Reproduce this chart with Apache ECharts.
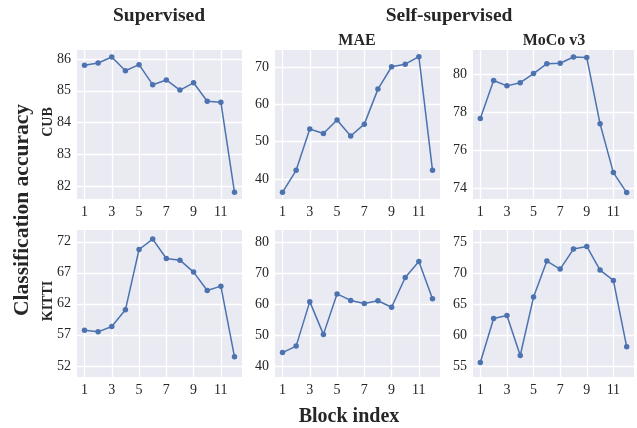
<!DOCTYPE html>
<html><head><meta charset="utf-8">
<script src="https://cdn.jsdelivr.net/npm/echarts@6/dist/echarts.min.js"></script>
<style>html,body{margin:0;padding:0;background:#fff}#c{width:637px;height:428px}</style>
</head><body><div id="c"></div>
<script>
// ---- data ----
const blocks = [1,2,3,4,5,6,7,8,9,10,11,12];
const xTicks = [1,3,5,7,9,11];

const supervisedCUB   = [85.80,85.87,86.06,85.63,85.82,85.19,85.34,85.02,85.25,84.67,84.64,81.81];
const maeCUB          = [36.4,42.3,53.4,52.2,55.8,51.5,54.7,64.1,70.1,70.8,72.8,42.3];
const mocoCUB         = [77.67,79.67,79.39,79.56,80.04,80.56,80.58,80.91,80.88,77.39,74.82,73.77];
const supervisedKITTI = [57.75,57.48,58.34,61.03,70.76,72.43,69.31,69.04,67.11,64.15,64.85,53.45];
const maeKITTI        = [44.3,46.4,60.8,50.2,63.3,61.2,60.2,61.1,59.0,68.6,73.8,61.7];
const mocoKITTI       = [55.65,62.74,63.23,56.77,66.18,71.99,70.70,73.92,74.35,70.54,68.87,58.17];

const yTicksSupCUB    = [82,83,84,85,86];
const yTicksMaeCUB    = [40,50,60,70];
const yTicksMocoCUB   = [74,76,78,80];
const yTicksSupKITTI  = [52,57,62,67,72];
const yTicksMaeKITTI  = [40,50,60,70,80];
const yTicksMocoKITTI = [55,60,65,70,75];

const colTitles = ['Supervised','Self-supervised'];
const subTitles = ['MAE','MoCo v3'];
const rowLabels = ['CUB','KITTI'];
const xLabel = 'Block index';
const yLabel = 'Classification accuracy';

// ---- layout / style ----
const seriesList = [supervisedCUB, maeCUB, mocoCUB, supervisedKITTI, maeKITTI, mocoKITTI];
const tickList = [yTicksSupCUB, yTicksMaeCUB, yTicksMocoCUB, yTicksSupKITTI, yTicksMaeKITTI, yTicksMocoKITTI];
const yRanges = [[81.6,86.28],[34.6,74.6],[73.43,81.28],[50.2,73.9],[36.4,84.0],[53.3,77.0]];
const lefts = [77,275,473];
const widths = [165,165,161];
const tops = [50,230];
const heights = [149,147];

const FONT = '"Liberation Serif","Times New Roman",serif';
const TXT = '#262626';
const LINE = '#4C72B0';

const grids = [], xAxes = [], yAxes = [], series = [];
for (let i = 0; i < 6; i++) {
  const r = Math.floor(i/3), c = i%3;
  grids.push({left: lefts[c], top: tops[r], width: widths[c], height: heights[r],
    show: true, backgroundColor: '#EAEAF2', borderWidth: 0});
  xAxes.push({type:'value', gridIndex:i, min:0.45, max:12.55,
    axisLine:{show:false},
    axisTick:{show:false, customValues:xTicks},
    axisLabel:{customValues:xTicks, fontFamily:FONT, fontSize:14, color:TXT, margin:6},
    splitLine:{show:true, lineStyle:{color:'#fff', width:1.3}}});
  yAxes.push({type:'value', gridIndex:i, min:yRanges[i][0], max:yRanges[i][1],
    axisLine:{show:false},
    axisTick:{show:false, customValues:tickList[i]},
    axisLabel:{customValues:tickList[i], fontFamily:FONT, fontSize:14, color:TXT, margin:6},
    splitLine:{show:true, lineStyle:{color:'#fff', width:1.3}}});
  series.push({type:'line', xAxisIndex:i, yAxisIndex:i,
    data: blocks.map((b,k)=>[b, seriesList[i][k]]),
    symbol:'circle', symbolSize:5.5, showSymbol:true,
    lineStyle:{color:LINE, width:1.5}, itemStyle:{color:LINE},
    silent:true, animation:false});
}

function txt(s, x, y, size, rot) {
  return {type:'text', x:x, y:y, rotation: rot||0,
    style:{text:s, fill:TXT, font:'bold '+size+'px '+FONT, align:'center', verticalAlign:'middle'}};
}

const graphics = [
  txt(colTitles[0], 159, 16, 19.5),
  txt(colTitles[1], 449, 16, 19.5),
  txt(subTitles[0], 357, 41, 16),
  txt(subTitles[1], 554, 41, 16),
  txt(rowLabels[0], 48, 122, 14, Math.PI/2),
  txt(rowLabels[1], 48, 301, 14, Math.PI/2),
  txt(yLabel, 22, 210, 21.5, Math.PI/2),
  txt(xLabel, 349, 417, 20)
];

const chart = echarts.init(document.getElementById('c'), null, {renderer:'canvas'});
chart.setOption({
  animation:false,
  backgroundColor:'#fff',
  grid: grids, xAxis: xAxes, yAxis: yAxes, series: series,
  graphic: graphics
});
</script></body></html>
